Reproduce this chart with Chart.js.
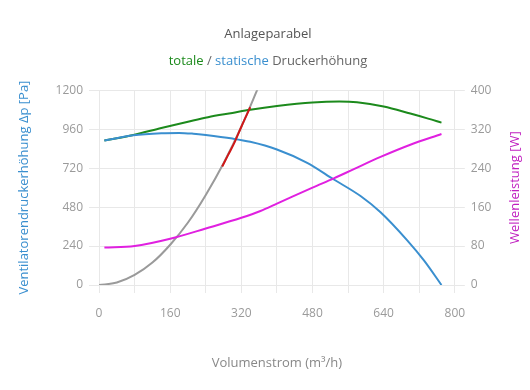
<!DOCTYPE html>
<html>
<head>
<meta charset="utf-8">
<script src="https://cdn.jsdelivr.net/npm/chart.js@4"></script>
<style>
  body { margin: 0; background: #fff; }
</style>
</head>
<body>
<canvas id="myChart" width="530" height="390"></canvas>
<script>
// values
const xTicks = [0, 160, 320, 480, 640, 800];

const staticX = [12, 77, 140, 180, 212, 240, 300, 340, 400, 468, 528, 588, 633, 693, 731, 770];
const staticP = [890, 922, 935, 937, 932, 924, 902, 882, 835, 753, 650, 548, 448, 275, 150, 0];

const totalX = [12, 77, 140, 200, 245, 300, 340, 400, 480, 540, 580, 640, 700, 740, 770];
const totalP = [890, 924, 967, 1006, 1034, 1060, 1079, 1102, 1124, 1130, 1126, 1100, 1056, 1025, 1000];

const powerX = [12, 80, 160, 240, 320, 363, 400, 480, 528, 573, 633, 700, 770];
const powerW = [77, 80, 95, 116, 138, 152, 167, 200, 219, 238, 263, 288, 310];

const parabX = [0, 40, 80, 120, 160, 200, 240, 280, 320, 360];
const parabP = [0, 15, 62, 138, 248, 385, 555, 750, 975, 1230];

const workX = [277, 290, 305, 320, 340];
const workP = [730, 800, 880, 975, 1095];

function pts(xs, ys) {
    return xs.map((x, i) => ({ x: x, y: ys[i] }));
}

const FONT = "'Open Sans', 'Noto Sans', sans-serif";
const GREEN = "#1c8a1c";
const BLUE = "#3a8fcf";
const MAGENTA = "#e020e0";
const SUBTITLE = "totale / statische Druckerhöhung";
const SUB_PAD_TOP = 10;
const RIGHT_TITLE = "Wellenleistung [W]";

// subtitle with coloured words + right axis title reading bottom-up
const customText = {
    id: "customText",
    afterDraw(chart) {
        const ctx = chart.ctx;
        ctx.save();
        ctx.font = "13px " + FONT;
        ctx.textBaseline = "middle";

        const st = chart.boxes.find(b => b.options && b.options.text === SUBTITLE);
        if (st) {
            const parts = [
                ["totale", GREEN],
                [" / ", "#666"],
                ["statische", BLUE],
                [" Druckerhöhung", "#666"]
            ];
            ctx.textAlign = "left";
            let total = 0;
            parts.forEach(p => total += ctx.measureText(p[0]).width);
            let x = (st.left + st.right) / 2 - total / 2;
            const y = st.top + SUB_PAD_TOP + 13 * 1.2 / 2;
            parts.forEach(p => {
                ctx.fillStyle = p[1];
                ctx.fillText(p[0], x, y);
                x += ctx.measureText(p[0]).width;
            });
        }

        const y1 = chart.scales.y1;
        ctx.translate(y1.right - 9, (chart.chartArea.top + chart.chartArea.bottom) / 2);
        ctx.rotate(-Math.PI / 2);
        ctx.textAlign = "center";
        ctx.fillStyle = "#c020c0";
        ctx.fillText(RIGHT_TITLE, 0, 0);
        ctx.restore();
    }
};

const line = (label, data, color, axis) => ({
    label: label,
    data: data,
    borderColor: color,
    backgroundColor: color,
    borderWidth: 2,
    pointRadius: 0,
    cubicInterpolationMode: "monotone",
    fill: false,
    yAxisID: axis
});

// first dataset is painted on top
new Chart(document.getElementById("myChart").getContext("2d"), {
    type: "line",
    data: {
        datasets: [
            line("Betriebsbereich", pts(workX, workP), "#d01818", "y"),
            line("Wellenleistung", pts(powerX, powerW), MAGENTA, "y1"),
            line("statische Druckerhöhung", pts(staticX, staticP), BLUE, "y"),
            line("totale Druckerhöhung", pts(totalX, totalP), GREEN, "y"),
            line("Anlageparabel", pts(parabX, parabP), "#9a9a9a", "y")
        ]
    },
    options: {
        responsive: false,
        animation: false,
        layout: { padding: { left: 12, right: 6, bottom: 15 } },
        plugins: {
            legend: { display: false },
            tooltip: { enabled: false },
            title: {
                display: true,
                text: "Anlageparabel",
                color: "#555",
                font: { family: FONT, size: 13, weight: "normal" },
                padding: { top: 26, bottom: 2 }
            },
            subtitle: {
                display: true,
                text: SUBTITLE,
                color: "rgba(0,0,0,0)",
                font: { family: FONT, size: 13 },
                padding: { top: SUB_PAD_TOP, bottom: 21 }
            }
        },
        scales: {
            x: {
                type: "linear",
                min: 0,
                max: 800,
                ticks: {
                    stepSize: 80,
                    color: "#9a9a9a",
                    font: { family: FONT, size: 12 },
                    padding: 13,
                    callback: v => xTicks.includes(v) ? String(v) : ""
                },
                grid: { color: "#e8e8e8", tickLength: 8 },
                border: { color: "#e8e8e8" },
                title: {
                    display: true,
                    text: "Volumenstrom (m³/h)",
                    color: "#888",
                    font: { family: FONT, size: 13 },
                    padding: { top: 22 }
                }
            },
            y: {
                position: "left",
                min: 0,
                max: 1200,
                ticks: {
                    stepSize: 240,
                    color: "#9a9a9a",
                    font: { family: FONT, size: 12 },
                    padding: 6,
                    callback: v => String(v)
                },
                grid: { color: "#e8e8e8", tickLength: 10 },
                border: { color: "#e8e8e8" },
                title: {
                    display: true,
                    text: "Ventilatorendruckerhöhung Δp [Pa]",
                    color: BLUE,
                    font: { family: FONT, size: 13 },
                    padding: { bottom: 18 }
                }
            },
            y1: {
                position: "right",
                min: 0,
                max: 400,
                ticks: {
                    stepSize: 80,
                    color: "#9a9a9a",
                    font: { family: FONT, size: 12 },
                    padding: 6,
                    callback: v => String(v)
                },
                grid: { drawOnChartArea: false, color: "#e8e8e8", tickLength: 10 },
                border: { color: "#e8e8e8" },
                title: {
                    display: true,
                    text: RIGHT_TITLE,
                    color: "rgba(0,0,0,0)",
                    font: { family: FONT, size: 13 },
                    padding: { top: 7 }
                }
            }
        }
    },
    plugins: [customText]
});
</script>
</body>
</html>
